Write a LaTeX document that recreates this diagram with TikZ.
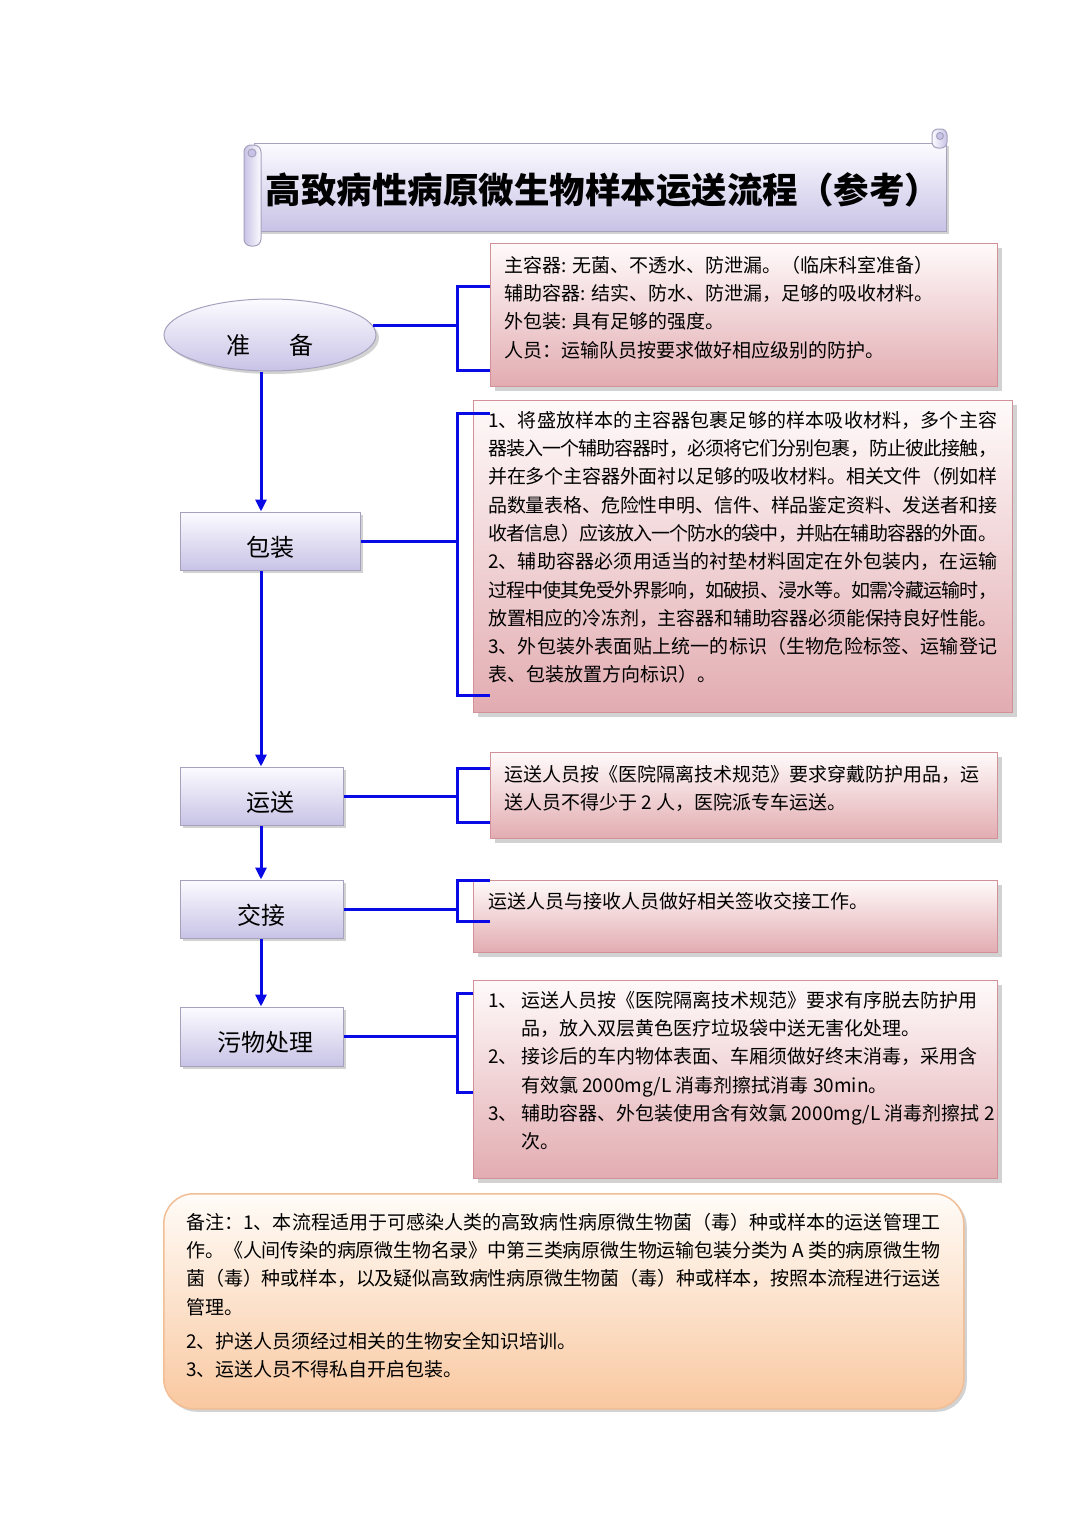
\documentclass[tikz,border=0pt]{standalone}
\usepackage{fontspec}
\setmainfont{Noto Sans CJK SC}
\usetikzlibrary{shapes.geometric,shadows,arrows.meta}
\XeTeXlinebreaklocale "zh"
\XeTeXlinebreakskip=0pt plus 2pt minus 1pt
\definecolor{arrblue}{RGB}{10,10,230}
\definecolor{lavtop}{RGB}{252,251,255}
\definecolor{lavbot}{RGB}{200,195,230}
\definecolor{lavline}{RGB}{165,162,190}
\definecolor{pinktop}{RGB}{255,250,250}
\definecolor{pinkbot}{RGB}{226,172,177}
\definecolor{pinkline}{RGB}{210,145,152}
\definecolor{peachtop}{RGB}{255,252,248}
\definecolor{peachbot}{RGB}{249,200,160}
\definecolor{peachline}{RGB}{242,190,150}
\newcommand\fs{\rule{0pt}{18pt}}
\begin{document}
\begin{tikzpicture}[x=1pt,y=-1pt,
 shad/.style={drop shadow={shadow xshift=3pt,shadow yshift=-3pt,fill=black!35}},
 stepnode/.style={draw=lavline, line width=1pt, top color=lavtop, bottom color=lavbot, shad, font=\fontsize{24}{28}\selectfont, inner sep=0pt, text height=30pt, text depth=0pt},
 infobox/.style={draw=pinkline, line width=1pt, top color=pinktop, bottom color=pinkbot, drop shadow={shadow xshift=4pt,shadow yshift=-4pt,fill=black!35}, anchor=north west, inner sep=0pt},
 conn/.style={arrblue, line width=3pt},
 arr/.style={arrblue, line width=3pt, -{Triangle[length=12pt,width=11pt]}},
 body/.style={anchor=north west, inner sep=0pt, align=left, font=\fontsize{19}{28.3}\selectfont},
 bodyj/.style={body, align=justify}
]
\useasboundingbox[fill=white] (0,0) rectangle (1080,1526);

% title scroll
\path[draw=lavline,line width=1pt,top color=lavtop,bottom color=lavbot,shad] (254,143) rectangle (946,231);
\path[draw=lavline,line width=1pt,left color=lavbot,right color=lavtop,rounded corners=7pt] (244,145) rectangle (261,246);
\draw[lavline,line width=1pt,fill=lavbot] (252,153) circle (4);
\path[draw=lavline,line width=1pt,left color=lavtop,right color=lavbot,rounded corners=6pt] (932,129) rectangle (947,148);
\draw[lavline,line width=1pt,fill=lavbot] (940,136) circle (3.5);
\node[font=\fontsize{35.5}{40}\selectfont\bfseries, inner sep=0pt] (title) at (603,190) {高致病性病原微生物样本运送流程（参考）};

% info boxes
\node[infobox, minimum width=507pt, minimum height=143pt] (info1) at (490,243) {};
\node[infobox, minimum width=539pt, minimum height=312pt] (info2) at (473,400) {};
\node[infobox, minimum width=507pt, minimum height=86pt] (info3) at (490,752) {};
\node[infobox, minimum width=524pt, minimum height=72pt] (info4) at (473,880) {};
\node[infobox, minimum width=524pt, minimum height=198pt] (info5) at (473,980) {};

% notes box
\node[draw=peachline, line width=1.5pt, rounded corners=30pt, top color=peachtop, bottom color=peachbot, shad, minimum width=800pt, minimum height=215pt, anchor=north west, inner sep=0pt] (notes) at (163,1193) {};

% step nodes
\node[ellipse, stepnode, text height=38pt, minimum width=212pt, minimum height=72pt] (prep) at (270,335) {准\hspace{40pt}备};
\node[stepnode, minimum width=180pt, minimum height=58pt] (pack) at (270,541) {包装};
\node[stepnode, minimum width=163pt, minimum height=58pt] (trans) at (261.5,796) {\hspace*{17pt}运送};
\node[stepnode, minimum width=163pt, minimum height=58pt] (hand) at (261.5,909) {交接};
\node[stepnode, minimum width=163pt, minimum height=59pt] (waste) at (261.5,1036.5) {\hspace*{8pt}污物处理};

% arrows
\coordinate (ax) at (261,0);
\draw[arr] (ax |- prep.south) -- (ax |- pack.north);
\draw[arr] (ax |- pack.south) -- (ax |- trans.north);
\draw[arr] (ax |- trans.south) -- (ax |- hand.north);
\draw[arr] (ax |- hand.south) -- (ax |- waste.north);

% brackets
\coordinate (b1t) at (457,286); \coordinate (b1b) at (457,370);
\coordinate (b2t) at (457,413); \coordinate (b2b) at (457,695);
\coordinate (b3t) at (457,768); \coordinate (b3b) at (457,822);
\coordinate (b4t) at (457,880); \coordinate (b4b) at (457,921);
\coordinate (b5t) at (457,993); \coordinate (b5b) at (457,1092);
\coordinate (tk) at (490,0);
\draw[conn] (prep.5) -- (prep.5 -| b1t);
\draw[conn] (tk |- b1t) -- (b1t) -- (b1b) -- (tk |- b1b);
\draw[conn] (pack.east) -- (pack.east -| b2t);
\draw[conn] (tk |- b2t) -- (b2t) -- (b2b) -- (tk |- b2b);
\draw[conn] (trans.east) -- (trans.east -| b3t);
\draw[conn] (tk |- b3t) -- (b3t) -- (b3b) -- (tk |- b3b);
\draw[conn] (hand.east) -- (hand.east -| b4t);
\draw[conn] (tk |- b4t) -- (b4t) -- (b4b) -- (tk |- b4b);
\draw[conn] (waste.east) -- (waste.east -| b5t);
\draw[conn] (info5.west |- b5t) -- (b5t) -- (b5b) -- (info5.west |- b5b);

% texts
\node[body] (t1) at (504,254) {\fs 主容器: 无菌、不透水、防泄漏。（临床科室准备）\\
辅助容器: 结实、防水、防泄漏，足够的吸收材料。\\
外包装: 具有足够的强度。\\
人员：运输队员按要求做好相应级别的防护。};

\node[bodyj, text width=509pt] (t2) at (488,409) {\fs 1、将盛放样本的主容器包裹足够的样本吸收材料，多个主容\linebreak
器装入一个辅助容器时，必须将它们分别包裹，防止彼此接触，\linebreak
并在多个主容器外面衬以足够的吸收材料。相关文件（例如样\linebreak
品数量表格、危险性申明、信件、样品鉴定资料、发送者和接\linebreak
收者信息）应该放入一个防水的袋中，并贴在辅助容器的外面。\linebreak
2、辅助容器必须用适当的衬垫材料固定在外包装内，在运输\linebreak
过程中使其免受外界影响，如破损、浸水等。如需冷藏运输时，\linebreak
放置相应的冷冻剂，主容器和辅助容器必须能保持良好性能。\linebreak
3、外包装外表面贴上统一的标识（生物危险标签、运输登记\linebreak
表、包装放置方向标识）。};

\node[body] (t3) at (504,763) {\fs 运送人员按《医院隔离技术规范》要求穿戴防护用品，运\\
送人员不得少于 2 人，医院派专车运送。};

\node[body] (t4) at (488,890) {\fs 运送人员与接收人员做好相关签收交接工作。};

\node[body] (t5) at (488,989) {\fs\makebox[33pt][l]{1、}运送人员按《医院隔离技术规范》要求有序脱去防护用\\
\hspace*{33pt}品，放入双层黄色医疗垃圾袋中送无害化处理。\\
\makebox[33pt][l]{2、}接诊后的车内物体表面、车厢须做好终末消毒，采用含\\
\hspace*{33pt}有效氯 2000mg/L 消毒剂擦拭消毒 30min。\\
\makebox[33pt][l]{3、}辅助容器、外包装使用含有效氯 2000mg/L 消毒剂擦拭 2\\
\hspace*{33pt}次。};

\node[bodyj, text width=754pt] (tn) at (186,1211) {\fs 备注：1、本流程适用于可感染人类的高致病性病原微生物菌（毒）种或样本的运送管理工\linebreak
作。《人间传染的病原微生物名录》中第三类病原微生物运输包装分类为 A 类的病原微生物\linebreak
菌（毒）种或样本，以及疑似高致病性病原微生物菌（毒）种或样本，按照本流程进行运送\linebreak
管理。\\[5.7pt]
2、护送人员须经过相关的生物安全知识培训。\\
3、运送人员不得私自开启包装。};
\end{tikzpicture}
\end{document}
